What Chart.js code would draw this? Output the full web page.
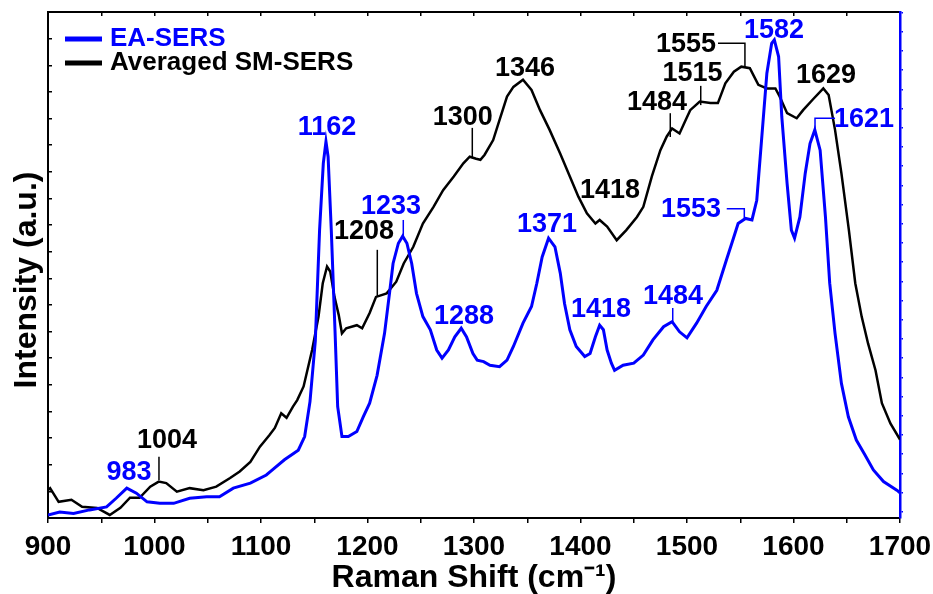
<!DOCTYPE html>
<html>
<head>
<meta charset="utf-8">
<script src="https://cdn.jsdelivr.net/npm/chart.js@4.4.0/dist/chart.umd.min.js"></script>
<style>
    html, body { margin: 0; padding: 0; background: #fff; }
    #wrap { width: 933px; height: 594px; }
</style>
</head>
<body>
<div id="wrap"><canvas id="ramanChart"></canvas></div>
<script>
// Averaged SM-SERS (black)
const smShift = [900, 902, 910, 922, 932, 946, 958, 968, 977, 986,
    996, 1004, 1011, 1021, 1033, 1046, 1058, 1071, 1080, 1090,
    1099, 1108, 1113, 1119, 1124, 1130, 1134, 1140, 1148, 1154,
    1158, 1162, 1165, 1169, 1173, 1176, 1180, 1190, 1195, 1202,
    1208, 1218, 1227, 1234, 1243, 1252, 1262, 1271, 1281, 1290,
    1296, 1302, 1306, 1310, 1318, 1324, 1331, 1337, 1346, 1354,
    1362, 1371, 1381, 1390, 1398, 1406, 1414, 1418, 1425, 1434,
    1443, 1453, 1459, 1467, 1475, 1481, 1486, 1493, 1498, 1503,
    1512, 1522, 1529, 1536, 1544, 1551, 1559, 1567, 1575, 1583,
    1587, 1594, 1603, 1609, 1619, 1628, 1633, 1639, 1645, 1652,
    1658, 1664, 1670, 1677, 1683, 1691, 1700];
const smIntensity = [5.5, 5.9, 3.2, 3.6, 2.2, 2.0, 0.6, 2.0, 4.0, 4.0,
    6.2, 7.2, 6.9, 5.2, 5.9, 5.5, 6.2, 7.9, 9.2, 11.1,
    14.1, 16.4, 17.8, 20.7, 19.8, 22.0, 23.3, 26.0, 33.2, 39.8,
    46.4, 49.7, 48.7, 43.7, 40.1, 36.5, 37.5, 38.1, 37.5, 40.5,
    43.7, 44.4, 46.7, 50.3, 53.6, 58.2, 61.5, 64.8, 67.5, 70.1,
    71.4, 71.0, 70.8, 71.8, 74.7, 78.7, 83.3, 85.2, 86.6, 84.6,
    80.6, 76.7, 72.0, 67.5, 63.5, 60.2, 58.2, 58.9, 57.6, 54.9,
    56.9, 59.5, 61.5, 67.5, 72.7, 75.4, 77.0, 76.0, 78.3, 80.6,
    82.3, 82.0, 82.0, 85.9, 88.2, 89.2, 88.9, 85.6, 84.9, 84.9,
    83.3, 80.0, 79.0, 80.6, 82.9, 84.9, 83.6, 76.7, 68.1, 56.9,
    46.4, 39.8, 34.5, 29.2, 22.7, 18.7, 15.5];

// EA-SERS (blue)
const eaShift = [900, 911, 924, 939, 955, 964, 974, 983, 993, 1005,
    1018, 1033, 1049, 1061, 1074, 1090, 1105, 1109, 1122, 1135,
    1141, 1146, 1151, 1155, 1158.5, 1161, 1163, 1166, 1169.5, 1172,
    1176, 1182, 1190, 1196, 1202, 1209, 1216, 1221, 1224, 1229,
    1233, 1237, 1241.5, 1246, 1252, 1259, 1265, 1270, 1276, 1282,
    1288, 1293, 1299, 1303, 1309, 1315, 1324, 1331, 1337, 1346,
    1354, 1359, 1364, 1370, 1376, 1381, 1385, 1390, 1396, 1404,
    1409, 1414, 1418, 1421.5, 1425, 1429, 1432, 1440, 1450, 1459,
    1468, 1478, 1486, 1493, 1500, 1509, 1518, 1528, 1537, 1543,
    1548, 1555, 1561, 1565.5, 1570, 1575, 1579.5, 1582, 1586, 1589,
    1594, 1598, 1601, 1606, 1611, 1615.5, 1620, 1625, 1630, 1634,
    1639, 1645, 1651.5, 1659, 1667, 1675, 1684.5, 1697, 1700];
const eaIntensity = [0.6, 1.2, 0.9, 1.6, 2.2, 3.9, 5.9, 4.9, 3.2, 2.9,
    2.9, 3.9, 4.2, 4.2, 5.9, 6.9, 8.5, 9.2, 11.5, 13.4,
    16.1, 23.0, 35.0, 56.9, 70.1, 74.4, 71.4, 56.9, 37.0, 22.0,
    16.1, 16.1, 17.1, 20.0, 22.7, 28.2, 36.5, 45.0, 50.3, 54.3,
    55.7, 54.3, 50.3, 44.4, 39.8, 37.2, 33.2, 31.6, 33.2, 35.8,
    37.5, 35.8, 32.5, 31.2, 30.9, 30.2, 29.9, 31.2, 33.9, 38.5,
    41.8, 46.4, 51.6, 55.3, 53.6, 48.4, 42.4, 37.2, 33.9, 31.9,
    32.5, 35.8, 38.1, 37.2, 33.2, 30.6, 29.2, 30.2, 30.6, 32.2,
    35.2, 37.8, 38.8, 36.8, 35.6, 38.5, 41.8, 45.0, 51.0, 54.9,
    58.2, 59.2, 58.9, 62.8, 74.7, 87.9, 93.8, 94.5, 91.2, 79.3,
    66.1, 56.9, 55.3, 59.5, 68.1, 74.0, 76.7, 72.7, 59.5, 46.4,
    36.5, 26.6, 20.0, 15.4, 12.5, 9.5, 7.2, 5.5, 5.0];

const smPeaks = ['1004', '1208', '1300', '1346', '1418', '1484', '1515', '1555', '1629'];
const eaPeaks = ['983', '1162', '1233', '1288', '1371', '1418', '1484', '1553', '1582', '1621'];

// where each peak label sits (data units) and its leader line, same order as above
const smLabelPos = [
    {x: 1011.7, y: 15.4, leader: [[1004.2, 12.1], [1004.2, 7.5]]},
    {x: 1196.7, y: 56.7, leader: [[1209.2, 53.0], [1209.2, 43.7]]},
    {x: 1289.4, y: 79.2, leader: [[1298.4, 77.1], [1298.4, 71.3]]},
    {x: 1347.9, y: 88.9},
    {x: 1427.7, y: 64.8},
    {x: 1471.8, y: 82.2, leader: [[1484.3, 80.0], [1484.3, 75.3]]},
    {x: 1505.2, y: 87.9, leader: [[1512.9, 85.4], [1512.9, 81.6]]},
    {x: 1499.1, y: 93.5, leader: [[1529.1, 93.8], [1554.4, 93.8], [1554.4, 89.1]]},
    {x: 1630.5, y: 87.5}
];
const eaLabelPos = [
    {x: 976.1, y: 8.9},
    {x: 1162, y: 77.1},
    {x: 1222.1, y: 61.5, leader: [[1233.6, 58.9], [1233.6, 55.5]]},
    {x: 1290.6, y: 39.9},
    {x: 1368.5, y: 57.9},
    {x: 1419.2, y: 41.1},
    {x: 1486.9, y: 43.7, leader: [[1486.6, 41.5], [1486.6, 38.5]]},
    {x: 1503.8, y: 60.9, leader: [[1537.3, 61.1], [1553.8, 61.1], [1553.8, 58.9]]},
    {x: 1581.7, y: 96.4},
    {x: 1666.2, y: 78.7, leader: [[1639.0, 79.0], [1620.2, 79.0], [1620.2, 76.7]]}
];

const FONT = '"Liberation Sans", Arial, Helvetica, sans-serif';
const BLUE = '#0000ff';

function toPoints(xs, ys) {
    return xs.map((v, i) => ({x: v, y: ys[i]}));
}

function drawPeakLabels(ctx, xs, ys, texts, pos, color) {
    ctx.font = 'bold 27px ' + FONT;
    ctx.fillStyle = color;
    ctx.strokeStyle = color;
    ctx.lineWidth = 1.5;
    ctx.textAlign = 'center';
    ctx.textBaseline = 'middle';
    texts.forEach((t, i) => {
        const p = pos[i];
        ctx.fillText(t, xs.getPixelForValue(p.x), ys.getPixelForValue(p.y));
        if (p.leader) {
            ctx.beginPath();
            p.leader.forEach(([lx, ly], k) => {
                const px = xs.getPixelForValue(lx), py = ys.getPixelForValue(ly);
                if (k === 0) ctx.moveTo(px, py); else ctx.lineTo(px, py);
            });
            ctx.stroke();
        }
    });
}

const decorations = {
    id: 'decorations',
    afterDatasetsDraw(chart) {
        const {ctx, chartArea, scales: {x, y}} = chart;
        ctx.save();
        drawPeakLabels(ctx, x, y, smPeaks, smLabelPos, '#000');
        drawPeakLabels(ctx, x, y, eaPeaks, eaLabelPos, BLUE);

        // legend inside the plot, top left
        ctx.font = 'bold 26px ' + FONT;
        ctx.textAlign = 'left';
        ctx.textBaseline = 'middle';
        chart.data.datasets.forEach((ds, i) => {
            const ly = chartArea.top + 27 + i * 24;
            ctx.strokeStyle = ds.borderColor;
            ctx.lineWidth = 5;
            ctx.beginPath();
            ctx.moveTo(chartArea.left + 17, ly);
            ctx.lineTo(chartArea.left + 54, ly);
            ctx.stroke();
            ctx.fillStyle = ds.borderColor;
            ctx.fillText(ds.label, chartArea.left + 62, ly);
        });

        // y axis title
        ctx.translate(chartArea.left - 21, chartArea.top + 268);
        ctx.rotate(-Math.PI / 2);
        ctx.font = 'bold 32px ' + FONT;
        ctx.fillStyle = '#000';
        ctx.textAlign = 'center';
        ctx.fillText('Intensity (a.u.)', 0, 0);
        ctx.restore();
    }
};

const ramanCtx = document.getElementById('ramanChart').getContext('2d');

const ramanChart = new Chart(ramanCtx, {
    type: 'line',
    data: {
        datasets: [{
            label: 'EA-SERS',
            data: toPoints(eaShift, eaIntensity),
            borderColor: BLUE,
            borderWidth: 3,
            pointRadius: 0,
            tension: 0,
            fill: false
        }, {
            label: 'Averaged SM-SERS',
            data: toPoints(smShift, smIntensity),
            borderColor: '#000000',
            borderWidth: 2.5,
            pointRadius: 0,
            tension: 0,
            fill: false
        }]
    },
    options: {
        responsive: true,
        maintainAspectRatio: false,
        animation: false,
        layout: { padding: 0, autoPadding: false },
        plugins: {
            legend: { display: false },
            tooltip: { enabled: false }
        },
        scales: {
            x: {
                type: 'linear',
                position: 'bottom',
                min: 900,
                max: 1700,
                afterFit: (scale) => { scale.height = 76; scale.paddingRight = 0; scale.paddingLeft = 0; },
                ticks: {
                    stepSize: 50,
                    autoSkip: false,
                    maxRotation: 0,
                    padding: 7,
                    color: '#000',
                    font: { family: FONT, size: 28, weight: 'bold' },
                    callback: (v) => (v % 100 === 0 ? v : '')
                },
                grid: { drawOnChartArea: false, tickLength: 5, color: '#000', lineWidth: 1.5 },
                border: { color: '#000', width: 2 },
                title: {
                    display: true,
                    text: 'Raman Shift (cm⁻¹)',
                    color: '#000',
                    padding: 0,
                    font: { family: FONT, size: 32, weight: 'bold', lineHeight: 1 }
                }
            },
            xTop: {
                type: 'linear',
                axis: 'x',
                position: 'top',
                min: 900,
                max: 1700,
                afterFit: (scale) => { scale.height = 12; },
                ticks: { display: false, stepSize: 50, autoSkip: false },
                grid: { drawOnChartArea: false, tickLength: -4, color: '#000', lineWidth: 1.5 },
                border: { color: '#000', width: 2 }
            },
            y: {
                type: 'linear',
                position: 'left',
                min: 0,
                max: 100,
                afterFit: (scale) => { scale.width = 48; },
                ticks: { display: false, stepSize: 100 / 19, includeBounds: false, maxTicksLimit: 100 },
                grid: { drawOnChartArea: false, tickLength: -4, color: '#000', lineWidth: 1.5 },
                border: { color: '#000', width: 2 }
            },
            yRight: {
                type: 'linear',
                axis: 'y',
                position: 'right',
                min: -0.33,
                max: 26.03,
                afterFit: (scale) => { scale.width = 33; },
                ticks: { display: false, stepSize: 1, includeBounds: false, maxTicksLimit: 100 },
                grid: { drawOnChartArea: false, tickLength: 3, color: BLUE, lineWidth: 1.5 },
                border: { color: BLUE, width: 2.5 }
            }
        }
    },
    plugins: [decorations]
});
</script>
</body>
</html>
